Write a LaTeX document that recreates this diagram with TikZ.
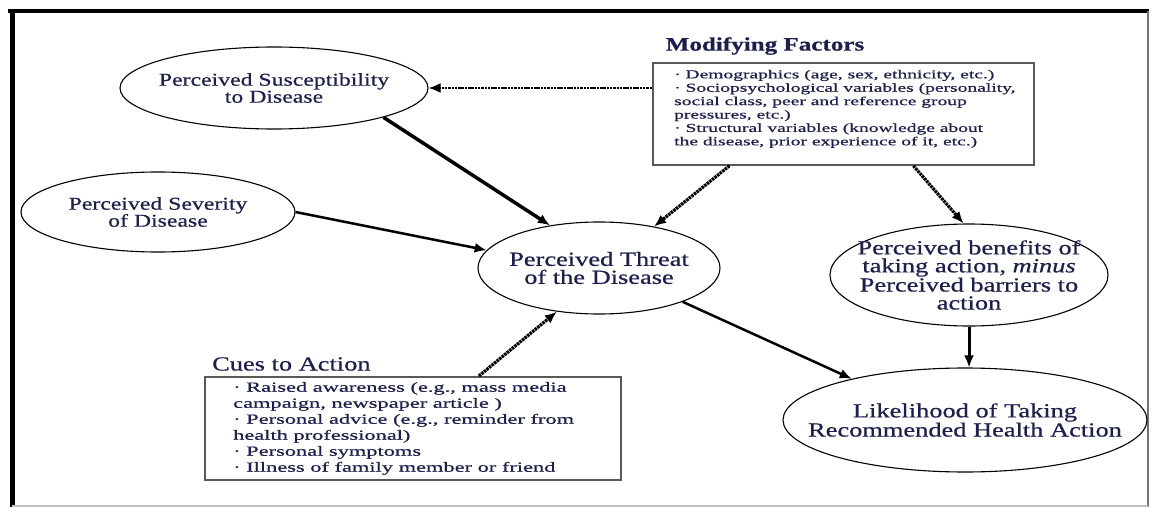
\documentclass[tikz,border=0pt]{standalone}
\usepackage{fontspec}
\setmainfont[FakeStretch=1.32,FakeBold=0.6]{Liberation Serif}
\newfontfamily\boxfont[FakeStretch=1.6,FakeBold=0.6]{Liberation Serif}
\usetikzlibrary{arrows.meta,shapes.geometric}
\definecolor{ink}{RGB}{28,32,75}
\begin{document}
\begin{tikzpicture}[x=1pt,y=-1pt,
  ell/.style={draw=black, line width=1.1pt, ellipse, inner xsep=-60pt, inner ysep=-20pt, align=center, text=ink},
  smallell/.style={font=\fontsize{18}{17}\selectfont},
  bigell/.style={font=\fontsize{20}{18}\selectfont},
  infobox/.style={draw=black!65, line width=1.8pt, rectangle, inner sep=0pt},
  boxtext/.style={align=left, text=ink, inner sep=0pt},
  solidarrow/.style={-{Latex[length=12pt,width=10pt]}, line width=2.5pt},
  dasharrow/.style={-{Latex[length=12pt,width=10pt]}, line width=3.2pt, dash pattern=on 2.5pt off 0.8pt},
]
\useasboundingbox (0,0) rectangle (1152,508);
\fill[white] (0,0) rectangle (1152,508);
% frame
\draw[line width=4pt] (8,11) -- (1149,11);
\draw[line width=5pt] (12,9) -- (12,507);
\draw[line width=2.5pt, black!55] (1148,11) -- (1148,507);
\draw[line width=1.5pt, black!25] (12,506) -- (1148,506);

% ellipses
\node[ell,smallell,minimum width=308pt,minimum height=82pt] (sus) at (274,88) {Perceived Susceptibility\\to Disease};
\node[ell,smallell,minimum width=274pt,minimum height=80pt] (sev) at (158,212) {Perceived Severity\\of Disease};
\node[ell,bigell,minimum width=242pt,minimum height=92pt] (thr) at (599,268) {Perceived Threat\\of the Disease};
\node[ell,bigell,minimum width=278pt,minimum height=102pt] (ben) at (969,275) {Perceived benefits of\\taking action, \textit{minus}\\Perceived barriers to\\action};
\node[ell,bigell,minimum width=364pt,minimum height=104pt] (lik) at (965,420) {Likelihood of Taking\\Recommended Health Action};

% modifying factors
\node[text=ink, inner sep=0pt, font=\bfseries\fontsize{19}{19}\selectfont] (modh) at (765,46) {Modifying Factors};
\node[infobox, minimum width=381pt, minimum height=102pt, anchor=north west] (mod) at (652,62) {};
\node[boxtext, anchor=west, font=\boxfont\fontsize{12.2}{13.4}\selectfont] (modt) at ([xshift=22pt,yshift=5pt]mod.west)
 {· Demographics (age, sex, ethnicity, etc.)\\
  · Sociopsychological variables (personality,\\
  social class, peer and reference group\\
  pressures, etc.)\\
  · Structural variables (knowledge about\\
  the disease, prior experience of it, etc.)};

% cues to action
\node[text=ink, anchor=west, inner sep=0pt, font=\fontsize{20}{20}\selectfont] (cuesh) at (212,364) {Cues to Action};
\node[infobox, minimum width=416pt, minimum height=103pt, anchor=north west] (cues) at (204,376) {};
\node[boxtext, anchor=west, font=\boxfont\fontsize{14}{16}\selectfont] (cuest) at ([xshift=29pt]cues.west)
 {· Raised awareness (e.g., mass media\\
  campaign, newspaper article )\\
  · Personal advice (e.g., reminder from\\
  health professional)\\
  · Personal symptoms\\
  · Illness of family member or friend};

% connectors
\draw[solidarrow, line width=3.5pt] (sus.-15) -- (thr.139);
\draw[solidarrow] (sev.east) -- (thr.171);
\draw[solidarrow] (thr.-22) -- (lik.160);
\draw[solidarrow, line width=3pt] (ben.south) -- (ben.south |- lik.north);
\draw[dasharrow, line width=2pt] (sus.east -| mod.west) -- (sus.east);
\draw[dasharrow] ([xshift=-114pt]mod.south) -- (thr.37);
\draw[dasharrow] ([xshift=70pt]mod.south) -- (ben.96);
\draw[dasharrow] ([xshift=66pt]cues.north) -- (thr.226);
\end{tikzpicture}
\end{document}
